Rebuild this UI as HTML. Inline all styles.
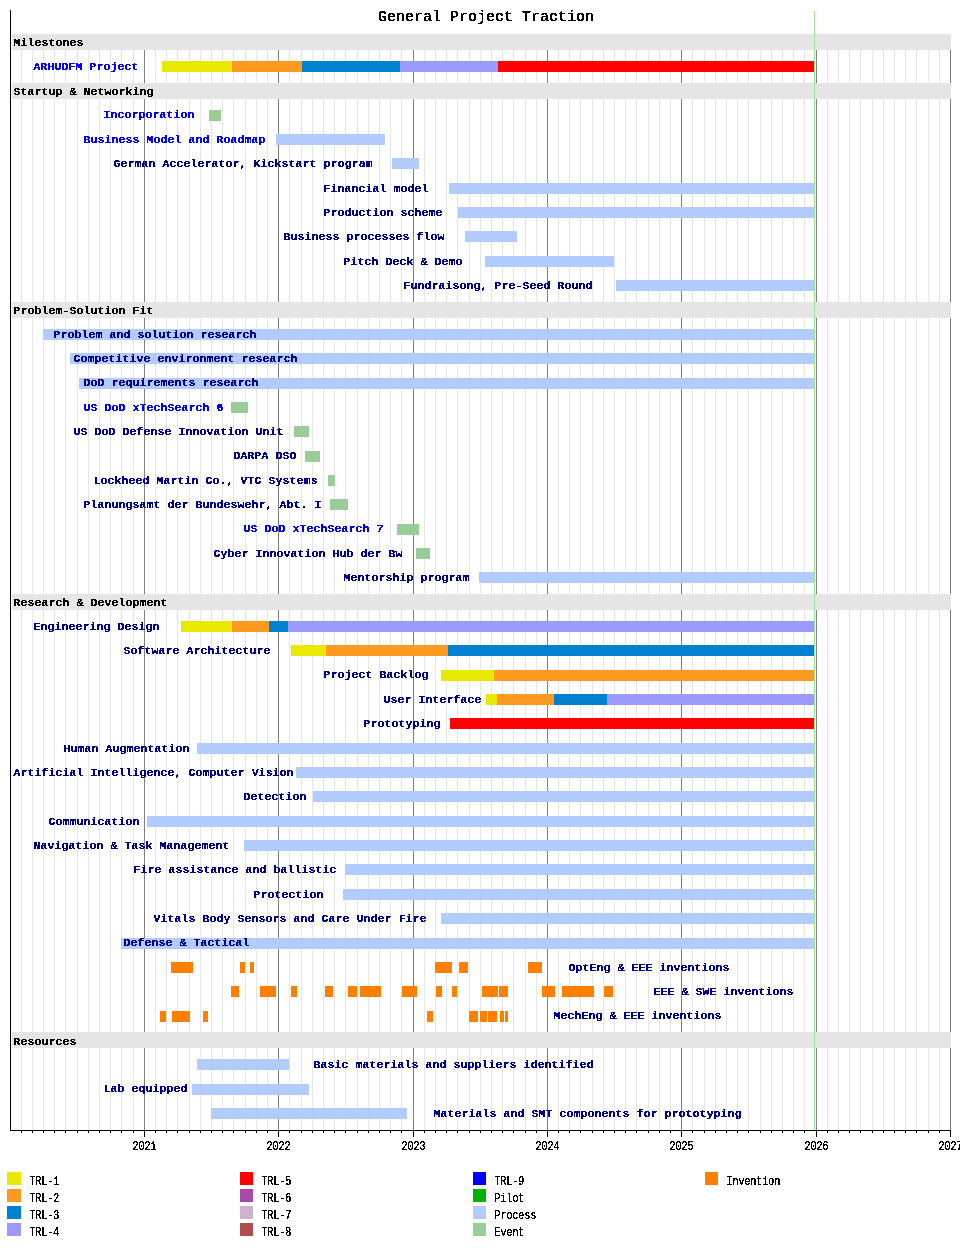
<!DOCTYPE html><html><head><meta charset="utf-8"><title>General Project Traction</title><style>html,body{margin:0;padding:0;background:#fff}svg{display:block;will-change:transform}text{font-family:"Liberation Mono",monospace;white-space:pre}.b{font-weight:bold;font-size:11.5px;letter-spacing:0.1px;stroke-width:0.1px;paint-order:stroke}.s{font-size:12px;stroke:#000;stroke-width:0.2px}.t{font-size:15px;stroke:#000;stroke-width:0.25px}</style></head><body>
<svg width="960" height="1250" viewBox="0 0 960 1250" shape-rendering="crispEdges">
<rect width="960" height="1250" fill="#fff"/>
<path d="M21.5 50V1130M32.5 50V1130M43.5 50V1130M54.5 50V1130M65.5 50V1130M77.5 50V1130M88.5 50V1130M99.5 50V1130M110.5 50V1130M121.5 50V1130M133.5 50V1130M155.5 50V1130M166.5 50V1130M177.5 50V1130M189.5 50V1130M200.5 50V1130M211.5 50V1130M222.5 50V1130M233.5 50V1130M245.5 50V1130M256.5 50V1130M267.5 50V1130M289.5 50V1130M301.5 50V1130M312.5 50V1130M323.5 50V1130M334.5 50V1130M345.5 50V1130M357.5 50V1130M368.5 50V1130M379.5 50V1130M390.5 50V1130M401.5 50V1130M424.5 50V1130M435.5 50V1130M446.5 50V1130M457.5 50V1130M469.5 50V1130M480.5 50V1130M491.5 50V1130M502.5 50V1130M513.5 50V1130M525.5 50V1130M536.5 50V1130M558.5 50V1130M569.5 50V1130M580.5 50V1130M592.5 50V1130M603.5 50V1130M614.5 50V1130M625.5 50V1130M636.5 50V1130M648.5 50V1130M659.5 50V1130M670.5 50V1130M692.5 50V1130M704.5 50V1130M715.5 50V1130M726.5 50V1130M737.5 50V1130M748.5 50V1130M760.5 50V1130M771.5 50V1130M782.5 50V1130M793.5 50V1130M804.5 50V1130M827.5 50V1130M838.5 50V1130M849.5 50V1130M860.5 50V1130M872.5 50V1130M883.5 50V1130M894.5 50V1130M905.5 50V1130M916.5 50V1130M928.5 50V1130M939.5 50V1130" stroke="#e5e5e5" stroke-width="1" fill="none"/>
<path d="M144.5 50V1130M278.5 50V1130M413.5 50V1130M547.5 50V1130M681.5 50V1130M816.5 50V1130M950.5 50V1130" stroke="#7f7f7f" stroke-width="1" fill="none"/>
<rect x="12" y="34" width="939" height="16" fill="#e5e5e5"/>
<rect x="12" y="83" width="939" height="16" fill="#e5e5e5"/>
<rect x="12" y="302" width="939" height="16" fill="#e5e5e5"/>
<rect x="12" y="594" width="939" height="16" fill="#e5e5e5"/>
<rect x="12" y="1032" width="939" height="16" fill="#e5e5e5"/>
<rect x="162" y="61" width="70" height="11" fill="#e8e800"/>
<rect x="232" y="61" width="70" height="11" fill="#ff9a20"/>
<rect x="302" y="61" width="98" height="11" fill="#0080d0"/>
<rect x="400" y="61" width="98" height="11" fill="#9a9aff"/>
<rect x="498" y="61" width="316" height="11" fill="#ff0000"/>
<rect x="209" y="110" width="12" height="11" fill="#99cc99"/>
<rect x="276" y="134" width="109" height="11" fill="#b3ccff"/>
<rect x="392" y="158" width="27" height="11" fill="#b3ccff"/>
<rect x="449" y="183" width="365" height="11" fill="#b3ccff"/>
<rect x="458" y="207" width="356" height="11" fill="#b3ccff"/>
<rect x="465" y="231" width="52" height="11" fill="#b3ccff"/>
<rect x="485" y="256" width="129" height="11" fill="#b3ccff"/>
<rect x="616" y="280" width="198" height="11" fill="#b3ccff"/>
<rect x="43" y="329" width="771" height="11" fill="#b3ccff"/>
<rect x="70" y="353" width="744" height="11" fill="#b3ccff"/>
<rect x="79" y="378" width="735" height="11" fill="#b3ccff"/>
<rect x="231" y="402" width="17" height="11" fill="#99cc99"/>
<rect x="294" y="426" width="15" height="11" fill="#99cc99"/>
<rect x="305" y="451" width="15" height="11" fill="#99cc99"/>
<rect x="328" y="475" width="7" height="11" fill="#99cc99"/>
<rect x="330" y="499" width="18" height="11" fill="#99cc99"/>
<rect x="397" y="524" width="22" height="11" fill="#99cc99"/>
<rect x="416" y="548" width="14" height="11" fill="#99cc99"/>
<rect x="479" y="572" width="335" height="11" fill="#b3ccff"/>
<rect x="181" y="621" width="51" height="11" fill="#e8e800"/>
<rect x="232" y="621" width="37" height="11" fill="#ff9a20"/>
<rect x="269" y="621" width="19" height="11" fill="#0080d0"/>
<rect x="288" y="621" width="526" height="11" fill="#9a9aff"/>
<rect x="291" y="645" width="35" height="11" fill="#e8e800"/>
<rect x="326" y="645" width="122" height="11" fill="#ff9a20"/>
<rect x="448" y="645" width="366" height="11" fill="#0080d0"/>
<rect x="441" y="670" width="53" height="11" fill="#e8e800"/>
<rect x="494" y="670" width="320" height="11" fill="#ff9a20"/>
<rect x="486" y="694" width="11" height="11" fill="#e8e800"/>
<rect x="497" y="694" width="57" height="11" fill="#ff9a20"/>
<rect x="554" y="694" width="53" height="11" fill="#0080d0"/>
<rect x="607" y="694" width="207" height="11" fill="#9a9aff"/>
<rect x="450" y="718" width="364" height="11" fill="#ff0000"/>
<rect x="197" y="743" width="617" height="11" fill="#b3ccff"/>
<rect x="296" y="767" width="518" height="11" fill="#b3ccff"/>
<rect x="313" y="791" width="501" height="11" fill="#b3ccff"/>
<rect x="147" y="816" width="667" height="11" fill="#b3ccff"/>
<rect x="244" y="840" width="570" height="11" fill="#b3ccff"/>
<rect x="345" y="864" width="469" height="11" fill="#b3ccff"/>
<rect x="343" y="889" width="471" height="11" fill="#b3ccff"/>
<rect x="441" y="913" width="373" height="11" fill="#b3ccff"/>
<rect x="121" y="938" width="693" height="11" fill="#b3ccff"/>
<rect x="171" y="962" width="22" height="11" fill="#ff8000"/>
<rect x="240" y="962" width="5" height="11" fill="#ff8000"/>
<rect x="250" y="962" width="4" height="11" fill="#ff8000"/>
<rect x="435" y="962" width="17" height="11" fill="#ff8000"/>
<rect x="459" y="962" width="9" height="11" fill="#ff8000"/>
<rect x="528" y="962" width="14" height="11" fill="#ff8000"/>
<rect x="231" y="986" width="8" height="11" fill="#ff8000"/>
<rect x="260" y="986" width="16" height="11" fill="#ff8000"/>
<rect x="291" y="986" width="6" height="11" fill="#ff8000"/>
<rect x="325" y="986" width="8" height="11" fill="#ff8000"/>
<rect x="348" y="986" width="9" height="11" fill="#ff8000"/>
<rect x="360" y="986" width="21" height="11" fill="#ff8000"/>
<rect x="402" y="986" width="15" height="11" fill="#ff8000"/>
<rect x="436" y="986" width="6" height="11" fill="#ff8000"/>
<rect x="452" y="986" width="5" height="11" fill="#ff8000"/>
<rect x="482" y="986" width="16" height="11" fill="#ff8000"/>
<rect x="499" y="986" width="9" height="11" fill="#ff8000"/>
<rect x="542" y="986" width="13" height="11" fill="#ff8000"/>
<rect x="562" y="986" width="32" height="11" fill="#ff8000"/>
<rect x="604" y="986" width="9" height="11" fill="#ff8000"/>
<rect x="160" y="1011" width="6" height="11" fill="#ff8000"/>
<rect x="172" y="1011" width="18" height="11" fill="#ff8000"/>
<rect x="203" y="1011" width="5" height="11" fill="#ff8000"/>
<rect x="427" y="1011" width="6" height="11" fill="#ff8000"/>
<rect x="469" y="1011" width="9" height="11" fill="#ff8000"/>
<rect x="480" y="1011" width="7" height="11" fill="#ff8000"/>
<rect x="488" y="1011" width="9" height="11" fill="#ff8000"/>
<rect x="500" y="1011" width="4" height="11" fill="#ff8000"/>
<rect x="505" y="1011" width="3" height="11" fill="#ff8000"/>
<rect x="197" y="1059" width="92" height="11" fill="#b3ccff"/>
<rect x="192" y="1084" width="117" height="11" fill="#b3ccff"/>
<rect x="211" y="1108" width="196" height="11" fill="#b3ccff"/>
<path d="M814.5 11V1130" stroke="#99e699" stroke-width="1" fill="none"/>
<path d="M10.5 10V1131M10 1130.5H951" stroke="#000" stroke-width="1" fill="none"/>
<path d="M21.5 1131V1133M32.5 1131V1133M43.5 1131V1133M54.5 1131V1133M65.5 1131V1133M77.5 1131V1133M88.5 1131V1133M99.5 1131V1133M110.5 1131V1133M121.5 1131V1133M133.5 1131V1133M155.5 1131V1133M166.5 1131V1133M177.5 1131V1133M189.5 1131V1133M200.5 1131V1133M211.5 1131V1133M222.5 1131V1133M233.5 1131V1133M245.5 1131V1133M256.5 1131V1133M267.5 1131V1133M289.5 1131V1133M301.5 1131V1133M312.5 1131V1133M323.5 1131V1133M334.5 1131V1133M345.5 1131V1133M357.5 1131V1133M368.5 1131V1133M379.5 1131V1133M390.5 1131V1133M401.5 1131V1133M424.5 1131V1133M435.5 1131V1133M446.5 1131V1133M457.5 1131V1133M469.5 1131V1133M480.5 1131V1133M491.5 1131V1133M502.5 1131V1133M513.5 1131V1133M525.5 1131V1133M536.5 1131V1133M558.5 1131V1133M569.5 1131V1133M580.5 1131V1133M592.5 1131V1133M603.5 1131V1133M614.5 1131V1133M625.5 1131V1133M636.5 1131V1133M648.5 1131V1133M659.5 1131V1133M670.5 1131V1133M692.5 1131V1133M704.5 1131V1133M715.5 1131V1133M726.5 1131V1133M737.5 1131V1133M748.5 1131V1133M760.5 1131V1133M771.5 1131V1133M782.5 1131V1133M793.5 1131V1133M804.5 1131V1133M827.5 1131V1133M838.5 1131V1133M849.5 1131V1133M860.5 1131V1133M872.5 1131V1133M883.5 1131V1133M894.5 1131V1133M905.5 1131V1133M916.5 1131V1133M928.5 1131V1133M939.5 1131V1133M144.5 1131V1137M278.5 1131V1137M413.5 1131V1137M547.5 1131V1137M681.5 1131V1137M816.5 1131V1137M950.5 1131V1137" stroke="#000" stroke-width="1" fill="none"/>
<defs><filter id="px" x="0" y="0" width="100%" height="100%" filterUnits="userSpaceOnUse" color-interpolation-filters="sRGB"><feComponentTransfer><feFuncA type="discrete" tableValues="0 0 1 1 1"/></feComponentTransfer></filter></defs>
<g shape-rendering="auto" filter="url(#px)">
<text class="t" x="378" y="21" fill="#000">General Project Traction</text>
<text class="b" x="13.6" y="46" fill="#000" stroke="#000">Milestones</text>
<text class="b" x="33.6" y="70" fill="#0000ff" stroke="#0000ff">ARHUDFM Project</text>
<text class="b" x="13.6" y="95" fill="#000" stroke="#000">Startup &amp; Networking</text>
<text class="b" x="103.6" y="118" fill="#0000ff" stroke="#0000ff">Incorporation</text>
<text class="b" x="83.6" y="143" fill="#0000ff" stroke="#0000ff">Business Model and Roadmap</text>
<text class="b" x="113.6" y="167" fill="#00008b" stroke="#00008b">German Accelerator, Kickstart program</text>
<text class="b" x="323.6" y="192" fill="#00008b" stroke="#00008b">Financial model</text>
<text class="b" x="323.6" y="216" fill="#00008b" stroke="#00008b">Production scheme</text>
<text class="b" x="283.6" y="240" fill="#00008b" stroke="#00008b">Business processes flow</text>
<text class="b" x="343.6" y="265" fill="#00008b" stroke="#00008b">Pitch Deck &amp; Demo</text>
<text class="b" x="403.6" y="289" fill="#00008b" stroke="#00008b">Fundraisong, Pre-Seed Round</text>
<text class="b" x="13.6" y="314" fill="#000" stroke="#000">Problem-Solution Fit</text>
<text class="b" x="53.6" y="338" fill="#00008b" stroke="#00008b">Problem and solution research</text>
<text class="b" x="73.6" y="362" fill="#00008b" stroke="#00008b">Competitive environment research</text>
<text class="b" x="83.6" y="386" fill="#00008b" stroke="#00008b">DoD requirements research</text>
<text class="b" x="83.6" y="411" fill="#0000ff" stroke="#0000ff">US DoD xTechSearch 6</text>
<text class="b" x="73.6" y="435" fill="#00008b" stroke="#00008b">US DoD Defense Innovation Unit</text>
<text class="b" x="233.6" y="459" fill="#00008b" stroke="#00008b">DARPA DSO</text>
<text class="b" x="93.6" y="484" fill="#00008b" stroke="#00008b">Lockheed Martin Co., VTC Systems</text>
<text class="b" x="83.6" y="508" fill="#00008b" stroke="#00008b">Planungsamt der Bundeswehr, Abt. I</text>
<text class="b" x="243.6" y="532" fill="#0000f4" stroke="#0000f4">US DoD xTechSearch 7</text>
<text class="b" x="213.6" y="557" fill="#00008b" stroke="#00008b">Cyber Innovation Hub der Bw</text>
<text class="b" x="343.6" y="581" fill="#00008b" stroke="#00008b">Mentorship program</text>
<text class="b" x="13.6" y="606" fill="#000" stroke="#000">Research &amp; Development</text>
<text class="b" x="33.6" y="630" fill="#00008b" stroke="#00008b">Engineering Design</text>
<text class="b" x="123.6" y="654" fill="#00008b" stroke="#00008b">Software Architecture</text>
<text class="b" x="323.6" y="678" fill="#00008b" stroke="#00008b">Project Backlog</text>
<text class="b" x="383.6" y="703" fill="#00008b" stroke="#00008b">User Interface</text>
<text class="b" x="363.6" y="727" fill="#00008b" stroke="#00008b">Prototyping</text>
<text class="b" x="63.6" y="752" fill="#00008b" stroke="#00008b">Human Augmentation</text>
<text class="b" x="13.6" y="776" fill="#00008b" stroke="#00008b">Artificial Intelligence, Computer Vision</text>
<text class="b" x="243.6" y="800" fill="#00008b" stroke="#00008b">Detection</text>
<text class="b" x="48.6" y="825" fill="#00008b" stroke="#00008b">Communication</text>
<text class="b" x="33.6" y="849" fill="#00008b" stroke="#00008b">Navigation &amp; Task Management</text>
<text class="b" x="133.6" y="873" fill="#00008b" stroke="#00008b">Fire assistance and ballistic</text>
<text class="b" x="253.6" y="898" fill="#00008b" stroke="#00008b">Protection</text>
<text class="b" x="153.6" y="922" fill="#00008b" stroke="#00008b">Vitals Body Sensors and Care Under Fire</text>
<text class="b" x="123.6" y="946" fill="#00008b" stroke="#00008b">Defense &amp; Tactical</text>
<text class="b" x="568.6" y="971" fill="#00008b" stroke="#00008b">OptEng &amp; EEE inventions</text>
<text class="b" x="653.6" y="995" fill="#00008b" stroke="#00008b">EEE &amp; SWE inventions</text>
<text class="b" x="553.6" y="1019" fill="#00008b" stroke="#00008b">MechEng &amp; EEE inventions</text>
<text class="b" x="13.6" y="1045" fill="#000" stroke="#000">Resources</text>
<text class="b" x="313.6" y="1068" fill="#00008b" stroke="#00008b">Basic materials and suppliers identified</text>
<text class="b" x="103.6" y="1092" fill="#00008b" stroke="#00008b">Lab equipped</text>
<text class="b" x="433.6" y="1117" fill="#00008b" stroke="#00008b">Materials and SMT components for prototyping</text>
<text class="s" transform="translate(132.4,1150) scale(0.8333,1)" fill="#000">2021</text>
<text class="s" transform="translate(266.4,1150) scale(0.8333,1)" fill="#000">2022</text>
<text class="s" transform="translate(401.4,1150) scale(0.8333,1)" fill="#000">2023</text>
<text class="s" transform="translate(535.4,1150) scale(0.8333,1)" fill="#000">2024</text>
<text class="s" transform="translate(669.4,1150) scale(0.8333,1)" fill="#000">2025</text>
<text class="s" transform="translate(804.4,1150) scale(0.8333,1)" fill="#000">2026</text>
<text class="s" transform="translate(938.4,1150) scale(0.8333,1)" fill="#000">2027</text>
<rect x="7" y="1172" width="14" height="13" fill="#e8e800" shape-rendering="crispEdges"/>
<text class="s" transform="translate(29.4,1185) scale(0.8333,1)" fill="#000">TRL-1</text>
<rect x="7" y="1189" width="14" height="13" fill="#ff9a20" shape-rendering="crispEdges"/>
<text class="s" transform="translate(29.4,1202) scale(0.8333,1)" fill="#000">TRL-2</text>
<rect x="7" y="1206" width="14" height="13" fill="#0080d0" shape-rendering="crispEdges"/>
<text class="s" transform="translate(29.4,1219) scale(0.8333,1)" fill="#000">TRL-3</text>
<rect x="7" y="1223" width="14" height="13" fill="#9a9aff" shape-rendering="crispEdges"/>
<text class="s" transform="translate(29.4,1236) scale(0.8333,1)" fill="#000">TRL-4</text>
<rect x="240" y="1172" width="13" height="13" fill="#ff0000" shape-rendering="crispEdges"/>
<text class="s" transform="translate(261.4,1185) scale(0.8333,1)" fill="#000">TRL-5</text>
<rect x="240" y="1189" width="13" height="13" fill="#a64ca6" shape-rendering="crispEdges"/>
<text class="s" transform="translate(261.4,1202) scale(0.8333,1)" fill="#000">TRL-6</text>
<rect x="240" y="1206" width="13" height="13" fill="#ccb3cc" shape-rendering="crispEdges"/>
<text class="s" transform="translate(261.4,1219) scale(0.8333,1)" fill="#000">TRL-7</text>
<rect x="240" y="1223" width="13" height="13" fill="#b34d4d" shape-rendering="crispEdges"/>
<text class="s" transform="translate(261.4,1236) scale(0.8333,1)" fill="#000">TRL-8</text>
<rect x="473" y="1172" width="13" height="13" fill="#0000ff" shape-rendering="crispEdges"/>
<text class="s" transform="translate(494.4,1185) scale(0.8333,1)" fill="#000">TRL-9</text>
<rect x="473" y="1189" width="13" height="13" fill="#00b300" shape-rendering="crispEdges"/>
<text class="s" transform="translate(494.4,1202) scale(0.8333,1)" fill="#000">Pilot</text>
<rect x="473" y="1206" width="13" height="13" fill="#b3ccff" shape-rendering="crispEdges"/>
<text class="s" transform="translate(494.4,1219) scale(0.8333,1)" fill="#000">Process</text>
<rect x="473" y="1223" width="13" height="13" fill="#99cc99" shape-rendering="crispEdges"/>
<text class="s" transform="translate(494.4,1236) scale(0.8333,1)" fill="#000">Event</text>
<rect x="705" y="1172" width="13" height="13" fill="#ff8000" shape-rendering="crispEdges"/>
<text class="s" transform="translate(726.4,1185) scale(0.8333,1)" fill="#000">Invention</text>
</g></svg></body></html>
